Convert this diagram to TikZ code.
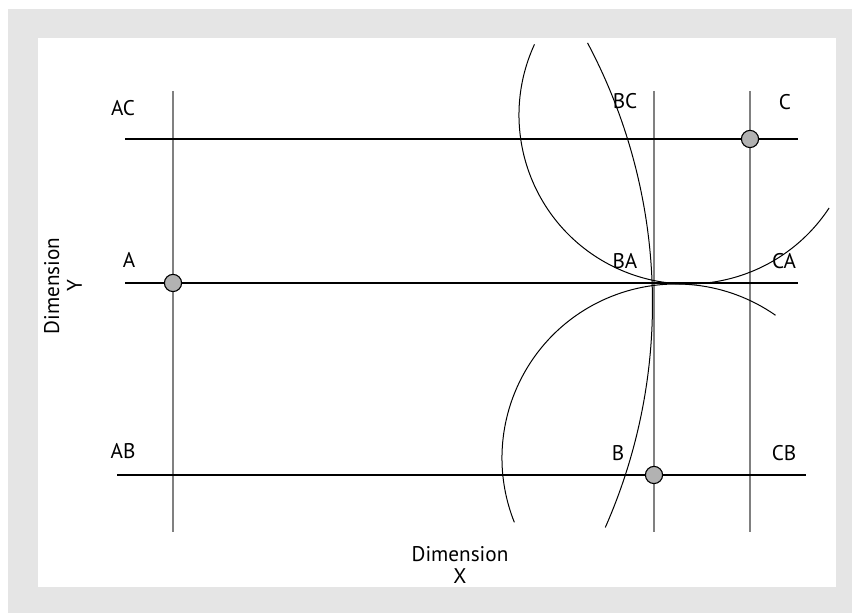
\documentclass[tikz,border=0pt]{standalone}
\usepackage{fontspec}
\setmainfont{PT Sans}
\usetikzlibrary{positioning}

\begin{document}
\begin{tikzpicture}[
  x=0.5pt, y=0.5pt,
  hline/.style={draw=black, line width=0.55pt},
  vline/.style={draw=black!50, line width=0.9pt},
  curve/.style={draw=black, line width=0.5pt},
  dot/.style={circle, draw=black, fill=black!30, line width=0.55pt, minimum size=8.6pt, inner sep=0pt},
  lbl/.style={font=\fontsize{10.6}{11.4}\selectfont, inner sep=0pt, align=center}
]
\useasboundingbox (0,0) rectangle (852,613);
\fill[black!10] (8,0) rectangle (852,604);
\fill[white] (38,26) rectangle (836,575);

\coordinate (aTop) at (173,522); \coordinate (aBot) at (173,81);
\coordinate (bTop) at (654,522); \coordinate (bBot) at (654,81);
\coordinate (cTop) at (750,522); \coordinate (cBot) at (750,81);
\coordinate (acL) at (125,474); \coordinate (acR) at (798,474);
\coordinate (aL) at (125,330); \coordinate (aR) at (798,330);
\coordinate (abL) at (117,138); \coordinate (abR) at (806,138);

\draw [vline] (aTop) -- (aBot);
\draw [vline] (bTop) -- (bBot);
\draw [vline] (cTop) -- (cBot);
\draw [hline] (acL) -- (acR);
\draw [hline] (aL) -- (aR);
\draw [hline] (abL) -- (abR);

\draw [curve] (688,498) ++(155.3:169) arc[start angle=155.3, end angle=326.6, radius=169];
\draw [curve] (676,155) ++(201.7:174) arc[start angle=201.7, end angle=55.1, radius=174];
\draw [curve] (97.5,309.5) ++(28:555) arc[start angle=28, end angle=-23.8, radius=555];

\node (A) [dot] at (173,330) {};
\node (B) [dot] at (654,138) {};
\node (C) [dot] at (750,474) {};

\node (acLbl) [lbl] at (123,505) {AC};
\node (aLbl) [lbl] at (129,353) {A};
\node (abLbl) [lbl] at (123,162) {AB};
\node (bcLbl) [lbl] at (625,512) {BC};
\node (cLbl) [lbl] at (785,511) {C};
\node (baLbl) [lbl] at (625,352) {BA};
\node (caLbl) [lbl] at (784,352) {CA};
\node (bLbl) [lbl] at (618,160) {B};
\node (cbLbl) [lbl] at (784,160) {CB};
\node (dimX) [lbl] at (460,48) {Dimension\\X};
\node (dimY) [lbl, rotate=90] at (63,327) {Dimension\\Y};
\end{tikzpicture}
\end{document}
